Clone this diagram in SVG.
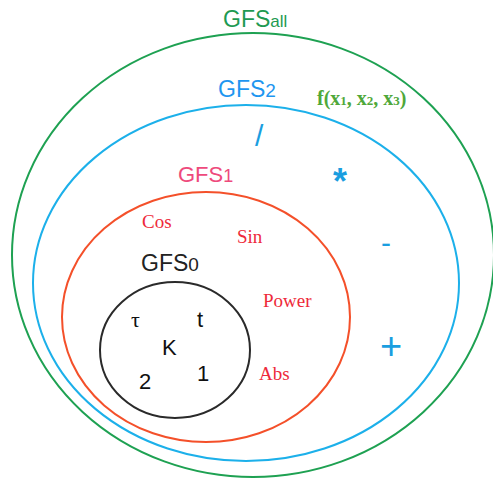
<svg xmlns="http://www.w3.org/2000/svg" width="493" height="479" viewBox="0 0 493 479">
<style>
.ring{fill:none;stroke-width:2}
.sans{font-family:"Liberation Sans",Arial,sans-serif}
.serif{font-family:"Liberation Serif","Times New Roman",serif}
.fn{fill:#ee2a3a;font-size:19px}
.op{fill:#1a9ee0}
.term{fill:#111;font-size:22px}
</style>
<rect width="493" height="479" fill="#ffffff"/>
<g id="gfs-all">
<ellipse class="ring" cx="253" cy="255" rx="241" ry="222" stroke="#1ea152"/>
<text class="sans" x="223" y="27" font-size="23" fill="#1e9a52">GFS<tspan font-size="17">all</tspan></text>
<text class="serif" x="317" y="105" font-size="20" font-weight="bold" fill="#4fa83a">f(x<tspan font-size="13">1</tspan>, x<tspan font-size="13">2</tspan>, x<tspan font-size="13">3</tspan>)</text>
</g>
<g id="gfs-2">
<ellipse class="ring" cx="246" cy="283" rx="213" ry="178" stroke="#1cb0ea"/>
<text class="sans" x="218" y="97" font-size="23" fill="#1e96f0">GFS<tspan font-size="19">2</tspan></text>
<text class="sans op" x="255" y="146" font-size="30">/</text>
<text class="sans op" x="333" y="194" font-size="36" font-weight="bold">*</text>
<text class="sans op" x="381" y="253" font-size="30">-</text>
<text class="sans op" x="380" y="359" font-size="38">+</text>
</g>
<g id="gfs-1">
<ellipse class="ring" cx="206" cy="317" rx="144" ry="125" stroke="#f4502a"/>
<text class="sans" x="178" y="182" font-size="22" fill="#ee4a7c">GFS<tspan font-size="18">1</tspan></text>
<text class="serif fn" x="142" y="228">Cos</text>
<text class="serif fn" x="237" y="243">Sin</text>
<text class="serif fn" x="263" y="307">Power</text>
<text class="serif fn" x="259" y="380">Abs</text>
</g>
<g id="gfs-0">
<ellipse class="ring" cx="175" cy="350" rx="75" ry="68" stroke="#2a2a2a"/>
<text class="sans" x="141" y="271" font-size="23" fill="#222">GFS<tspan font-size="19">0</tspan></text>
<text class="serif term" x="131" y="327" font-size="17">τ</text>
<text class="sans term" x="197" y="327">t</text>
<text class="sans term" x="162" y="355">K</text>
<text class="sans term" x="139" y="389">2</text>
<text class="sans term" x="197" y="381">1</text>
</g>
<g id="connectors"/>
</svg>
